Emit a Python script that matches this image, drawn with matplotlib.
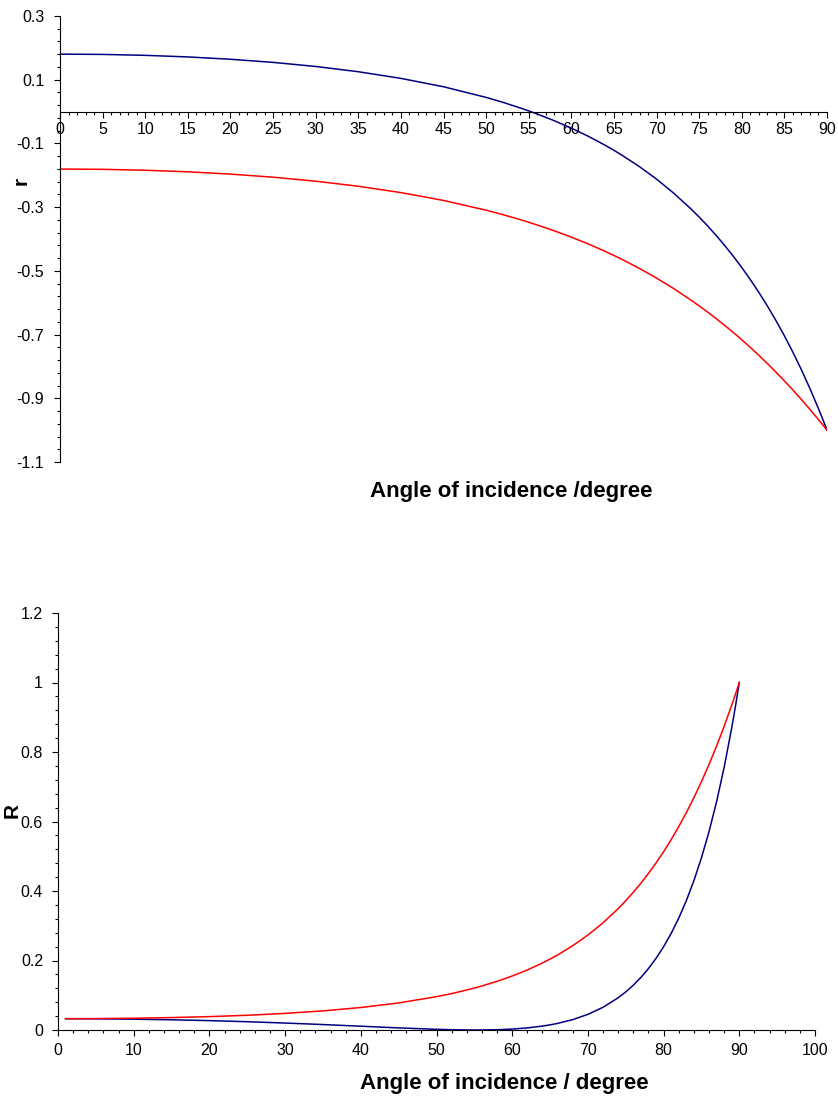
import matplotlib
matplotlib.use("Agg")
import matplotlib.pyplot as plt
from matplotlib.ticker import MultipleLocator, FuncFormatter

# ---- data ----
angle_r = [0, 5, 10, 15, 20, 25, 30, 35, 40, 45, 50, 52, 54, 55, 56, 58,
           60, 62, 64, 65, 66, 68, 70, 72, 74, 75, 76, 77, 78, 79, 80, 81,
           82, 83, 84, 85, 86, 87, 88, 89, 89.5, 90]
r_p = [0.1803, 0.1794, 0.1765, 0.1715, 0.1642, 0.1544, 0.1416, 0.1251,
       0.1042, 0.0779, 0.0445, 0.0288, 0.0114, 0.0021, -0.0077, -0.0287,
       -0.0520, -0.0777, -0.1062, -0.1216, -0.1379, -0.1730, -0.2121,
       -0.2558, -0.3046, -0.3311, -0.3592, -0.3890, -0.4205, -0.4540,
       -0.4895, -0.5272, -0.5674, -0.6100, -0.6555, -0.7039, -0.7555,
       -0.8106, -0.8695, -0.9325, -0.9657, -1.0]
r_s = [-0.1803, -0.1813, -0.1842, -0.1891, -0.1963, -0.2060, -0.2185,
       -0.2344, -0.2543, -0.2790, -0.3096, -0.3238, -0.3392, -0.3474,
       -0.3560, -0.3743, -0.3941, -0.4157, -0.4392, -0.4517, -0.4648,
       -0.4925, -0.5227, -0.5555, -0.5910, -0.6099, -0.6295, -0.6500,
       -0.6712, -0.6933, -0.7163, -0.7402, -0.7650, -0.7908, -0.8176,
       -0.8453, -0.8741, -0.9040, -0.9349, -0.9669, -0.9833, -1.0]

angle_R = [1, 5, 10, 15, 20, 25, 30, 35, 40, 45, 50, 52, 54, 55, 56, 58,
           60, 62, 64, 65, 66, 68, 70, 72, 74, 75, 76, 77, 78, 79, 80, 81,
           82, 83, 84, 85, 86, 87, 88, 89, 89.5, 90]
R_p = [0.0325, 0.0322, 0.0311, 0.0294, 0.0270, 0.0238, 0.0200, 0.0157,
       0.0109, 0.0061, 0.0020, 0.0008, 0.0001, 0.0000, 0.0001, 0.0008,
       0.0027, 0.0060, 0.0113, 0.0148, 0.0190, 0.0299, 0.0450, 0.0654,
       0.0928, 0.1096, 0.1290, 0.1513, 0.1768, 0.2061, 0.2396, 0.2780,
       0.3219, 0.3721, 0.4296, 0.4954, 0.5708, 0.6571, 0.7560, 0.8696,
       0.9325, 1.0]
R_s = [0.0325, 0.0329, 0.0339, 0.0358, 0.0385, 0.0424, 0.0478, 0.0550,
       0.0647, 0.0779, 0.0959, 0.1048, 0.1151, 0.1207, 0.1267, 0.1401,
       0.1553, 0.1728, 0.1929, 0.2041, 0.2160, 0.2426, 0.2732, 0.3085,
       0.3493, 0.3719, 0.3963, 0.4224, 0.4505, 0.4807, 0.5131, 0.5479,
       0.5853, 0.6254, 0.6684, 0.7146, 0.7641, 0.8171, 0.8740, 0.9349,
       0.9669, 1.0]

xlabel_top = "Angle of incidence /degree"
xlabel_bot = "Angle of incidence / degree"

plt.rcParams['font.family'] = ['Liberation Sans', 'DejaVu Sans']

W, H = 838, 1100
fig = plt.figure(figsize=(W / 100, H / 100), dpi=100)

BLUE = '#000080'
RED = '#FF0000'


def axes_px(left, right, top, bottom):
    return fig.add_axes([left / W, 1 - bottom / H, (right - left) / W, (bottom - top) / H])


def style(ax, xpad, ypad):
    for s in ('top', 'right'):
        ax.spines[s].set_visible(False)
    for s in ('left', 'bottom'):
        ax.spines[s].set_linewidth(0.8)
    ax.tick_params(which='major', direction='out', length=4.3, width=0.8, labelsize=11.5)
    ax.tick_params(which='minor', direction='out', length=2.5, width=0.8)
    ax.tick_params(axis='x', which='major', pad=xpad)
    ax.tick_params(axis='y', which='major', pad=ypad)


def fmt(v, pos):
    if abs(v - round(v)) < 1e-9:
        return '%d' % round(v)
    return '%.1f' % v


# ---- top panel ----
ax1 = axes_px(60, 827, 16, 462)
ax1.plot(angle_r, r_p, color=BLUE, lw=1.1)
ax1.plot(angle_r, r_s, color=RED, lw=1.1)
ax1.set_xlim(0, 90)
ax1.set_ylim(-1.1, 0.3)
ax1.spines['bottom'].set_position(('data', 0))
ax1.xaxis.set_major_locator(MultipleLocator(5))
ax1.xaxis.set_minor_locator(MultipleLocator(1))
ax1.yaxis.set_major_locator(MultipleLocator(0.2, offset=0.1))
ax1.yaxis.set_minor_locator(MultipleLocator(0.04, offset=0.02))
ax1.yaxis.set_major_formatter(FuncFormatter(lambda v, p: '%.1f' % v))
style(ax1, 3.5, 7)
ax1.set_xlabel(xlabel_top, fontsize=16, fontweight='bold', va='center', ha='center')
ax1.xaxis.set_label_coords((511 - 60) / 767, (462 - 492) / 446)
ax1.set_ylabel('r', fontsize=15, fontweight='bold', va='center', ha='center')
ax1.yaxis.set_label_coords((21 - 60) / 767, (462 - 181) / 446)

# ---- bottom panel ----
ax2 = axes_px(58, 815, 613, 1030)
ax2.plot(angle_R, R_p, color=BLUE, lw=1.1)
ax2.plot(angle_R, R_s, color=RED, lw=1.1)
ax2.set_xlim(0, 100)
ax2.set_ylim(0, 1.2)
ax2.xaxis.set_major_locator(MultipleLocator(10))
ax2.xaxis.set_minor_locator(MultipleLocator(2))
ax2.yaxis.set_major_locator(MultipleLocator(0.2))
ax2.yaxis.set_minor_locator(MultipleLocator(0.04))
ax2.yaxis.set_major_formatter(FuncFormatter(fmt))
style(ax2, 5, 6.5)
ax2.set_xlabel(xlabel_bot, fontsize=16, fontweight='bold', va='center', ha='center')
ax2.xaxis.set_label_coords((504.5 - 58) / 757, (1030 - 1083) / 417)
ax2.set_ylabel('R', fontsize=15, fontweight='bold', va='center', ha='center')
ax2.yaxis.set_label_coords((12 - 58) / 757, (1030 - 810) / 417)

fig.savefig('out.png', dpi=100)
